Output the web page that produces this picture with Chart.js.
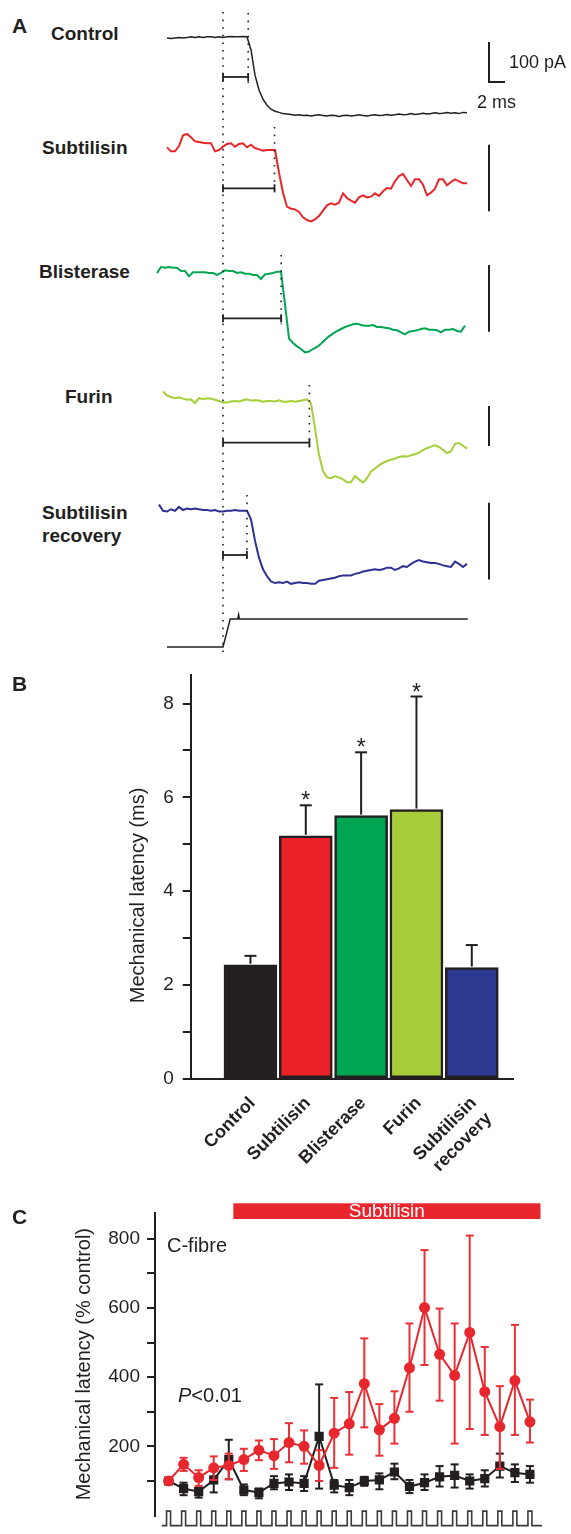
<!DOCTYPE html>
<html>
<head>
<meta charset="utf-8">
<title>Mechanical latency</title>
<script src="https://cdn.jsdelivr.net/npm/chart.js@4.4.0/dist/chart.umd.min.js"></script>
<style>
  html, body { margin: 0; padding: 0; background: #fff; }
  #page { position: relative; width: 571px; height: 1534px; overflow: hidden;
          font-family: "Liberation Sans", Arial, Helvetica, sans-serif; color: #231f20; }
  canvas { position: absolute; }
  .lbl { position: absolute; white-space: nowrap; line-height: 1; transform: translateY(-50%); }
  .panel { font-weight: bold; font-size: 21px; }
  .trace { font-weight: bold; font-size: 19px; }
  .note { font-size: 20px; }
  .scale { font-size: 18px; }
</style>
</head>
<body>
<div id="page">
  <canvas id="tracesChart" width="380" height="665" style="left:143px; top:0px;"></canvas>
  <canvas id="latencyChart" width="571" height="530" style="left:0px; top:655px;"></canvas>
  <canvas id="timeChart" width="571" height="344" style="left:0px; top:1190px;"></canvas>

  <div class="lbl panel" style="left:12px; top:25px;">A</div>
  <div class="lbl trace" style="left:51px; top:33px;">Control</div>
  <div class="lbl trace" style="left:42px; top:147px;">Subtilisin</div>
  <div class="lbl trace" style="left:39px; top:271px;">Blisterase</div>
  <div class="lbl trace" style="left:65px; top:396px;">Furin</div>
  <div class="lbl trace" style="left:42px; top:512px;">Subtilisin</div>
  <div class="lbl trace" style="left:42px; top:535px;">recovery</div>
  <div class="lbl scale" style="left:509px; top:62px;">100 pA</div>
  <div class="lbl scale" style="left:477px; top:102px;">2 ms</div>

  <div class="lbl panel" style="left:12px; top:683px;">B</div>

  <div class="lbl panel" style="left:12px; top:1216px;">C</div>
  <div class="lbl note" style="left:167px; top:1245px;">C-fibre</div>
  <div class="lbl note" style="left:178px; top:1395px;"><i>P</i>&lt;0.01</div>
</div>

<script>
// ---------- A: example mechanically activated currents ----------
// currents in pA, one sample every 0.5 ms, time 0 = probe onset
const sampleStep = 0.5;
const traceNames = ['Control', 'Subtilisin', 'Blisterase', 'Furin', 'Subtilisin recovery'];
const traceStarts = [-7, -7, -8.25, -7.5, -8];
const controlTrace = [0, -1, 0, 1, 0, 1, 3, 1, 3, 1, 3, 3, 1, 3, 1, 3, 4, 3, 3, 4, 3,
  -30, -93, -130, -153, -168, -178, -183, -186, -189, -190, -191,
  -193, -192, -194, -193, -195, -193, -192, -194, -195, -193,
  -194, -196, -194, -193, -195, -194, -192, -194, -195, -193,
  -192, -194, -193, -191, -193, -192, -190, -192, -191, -189,
  -191, -190, -188, -190, -189, -187, -189, -188, -186, -188,
  -187, -189, -186, -187];
const subtilisinTrace = [1, -5, -5, 3, 19, 21, 16, 10, 9, 8, 7, 7, -5, -3, 2, 6, 7, 2, 6, 7,
  1, 5, 0, -2, -4, -3, -3, -3,
  -37, -67, -88, -91, -92, -96, -104, -108, -110, -107, -102, -94, -86, -83, -85, -82,
  -68, -75, -79, -82, -74, -71, -74, -73, -68, -72, -65, -60, -61, -50, -42, -39,
  -48, -57, -47, -47, -55, -71, -67, -61, -47, -47, -56, -51, -47, -50, -53, -53];
const blisteraseTrace = [0, 9, 8, 9, 8, 8, 3, 3, -5, 1, 1, 1, 1, 0, 0, -3, 0, 4, 3, 3,
  0, 1, -1, -1, -3, -3, -9, -2, -1, 0, 2, 2,
  -47, -98, -105, -110, -114, -119, -118, -114, -111, -106, -100, -95, -91, -87, -84, -81,
  -79, -77, -76, -78, -79, -79, -78, -81, -81, -82, -83, -85, -86, -89, -92, -88,
  -87, -86, -84, -83, -85, -85, -86, -89, -85, -85, -84, -87, -88, -79];
const furinTrace = [24, 14, 10, 7, 9, 6, 3, 4, -5, 7, 5, 6, 6, 3, 0, -4, -4, -1, 0, -1,
  2, 4, 1, 2, 1, -2, 0, 0, -1, 2, -2, -2, 0, -2, 0, 2, 4, -6,
  -68, -135, -175, -191, -193, -188, -191, -196, -203, -203, -188, -196, -204, -193,
  -176, -169, -161, -155, -150, -147, -144, -140, -138, -139, -136, -133, -129, -123,
  -118, -114, -111, -115, -122, -130, -126, -107, -105, -112, -119];
const recoveryTrace = [7, -1, -2, 1, -1, 4, 0, 2, 1, 2, 1, 0, 0, -1, 0, -2, -2, -1, -1, 0,
  -1, -1, -1,
  -12, -40, -62, -77, -86, -93, -95, -94, -95, -93, -96, -95, -94, -95, -95, -96, -96,
  -92, -91, -90, -89, -88, -86, -85, -85, -85, -83, -82, -80, -79, -78, -77, -78,
  -77, -75, -75, -78, -76, -73, -74, -70, -67, -65, -67, -68, -69, -69, -70, -72,
  -73, -74, -67, -70, -74, -70];
const traceLatencies = [3.15, 6.44, 7.27, 10.8, 2.99]; // ms
// probe displacement (relative)
const stimTimes = [-7, 0, 0.9, 1.85, 1.95, 2.05, 30.6];
const stimLevels = [0, 0, 1, 1, 1.15, 1, 1];

// ---------- B: mean latency ----------
const barCategories = ['Control', 'Subtilisin', 'Blisterase', 'Furin', ['Subtilisin', 'recovery']];
const barMeans = [2.43, 5.18, 5.61, 5.74, 2.37];   // ms
const barErrors = [0.19, 0.65, 1.35, 2.41, 0.48];  // ms, upper error only
const barStars = [false, true, true, true, false];

// ---------- C: time course ----------
const sessionPoints = [1, 2, 3, 4, 5, 6, 7, 8, 9, 10, 11, 12, 13, 14, 15, 16, 17, 18, 19, 20, 21, 22, 23, 24, 25];
const subtilisinMean = [100, 148, 110, 138, 145, 162, 189, 173, 211, 200, 145, 238, 265, 381, 248, 281, 427, 601, 466, 405, 529, 358, 257, 390, 271];
const subtilisinUpper = [100, 167, 131, 171, 179, 193, 217, 221, 267, 246, 189, 340, 357, 512, 322, 359, 555, 767, 598, 555, 809, 487, 374, 551, 335];
const subtilisinLower = [100, 129, 86, 103, 105, 129, 160, 135, 154, 150, 100, 138, 176, 255, 173, 208, 300, 435, 332, 208, 250, 233, 135, 233, 211];
const controlMean = [100, 78, 69, 103, 162, 74, 67, 93, 97, 93, 229, 88, 81, 100, 103, 126, 84, 95, 112, 116, 100, 107, 143, 124, 119];
const controlUpper = [100, 95, 81, 138, 219, 90, 78, 114, 119, 114, 379, 103, 103, 112, 122, 150, 103, 119, 143, 148, 119, 131, 179, 148, 143];
const controlLower = [100, 59, 52, 67, 105, 59, 50, 76, 74, 71, 78, 67, 59, 86, 76, 105, 65, 74, 84, 81, 78, 84, 110, 97, 95];
const subtilisinOn = 5.3, subtilisinOff = 25.7;

const ink = '#231f20';
const traceColors = [ink, '#e8262a', '#00a651', '#a6ce39', '#2e3192'];
const barColors = [ink, '#ec2229', '#00a551', '#a6cd39', '#2e3a91'];
const red = '#e8262d';
const fontStack = '"Liberation Sans", Arial, Helvetica, sans-serif';

Chart.defaults.font.family = fontStack;
Chart.defaults.color = ink;

function strokeLine(ctx, x0, y0, x1, y1) {
  ctx.beginPath();
  ctx.moveTo(x0, y0);
  ctx.lineTo(x1, y1);
  ctx.stroke();
}

// ---- panel A layout: each trace gets its own hidden y axis ----
const A_H = 665;
const rowBase = [38, 148, 273, 401, 510];          // px of the 0 pA level
const rowGain = [0.4, 0.6667, 0.6667, 0.4, 0.7692]; // px per pA
const bracketLevel = [-97.5, -60.5, -68, -104, -58.5];
const scaleBarTop = [-10, 5, 12, -12.5, 9.5];
const dotAbove = [25, 21, 18, 16, 15];
const scaleBarTime = 33.25;

function rowScale(base, gain) {
  return { type: 'linear', display: false, min: (base - A_H) / gain, max: base / gain };
}

const traceSeries = [controlTrace, subtilisinTrace, blisteraseTrace, furinTrace, recoveryTrace];
const aScales = { x: { type: 'linear', display: false, min: -10, max: 37.5 } };
traceSeries.forEach((_, i) => { aScales['y' + i] = rowScale(rowBase[i], rowGain[i]); });
aScales.yStim = rowScale(647, 28);

const aDatasets = traceSeries.map((vals, i) => ({
  label: traceNames[i],
  data: vals.map((v, k) => ({ x: traceStarts[i] + k * sampleStep, y: v })),
  yAxisID: 'y' + i,
  borderColor: traceColors[i],
  borderWidth: i === 0 ? 1.5 : 2,
  pointRadius: 0,
  tension: 0
}));
aDatasets.push({
  label: 'Probe',
  data: stimTimes.map((t, k) => ({ x: t, y: stimLevels[k] })),
  yAxisID: 'yStim',
  borderColor: ink,
  borderWidth: 1.5,
  pointRadius: 0
});

const traceMarks = {
  id: 'traceMarks',
  afterDatasetsDraw(chart) {
    const { ctx, scales } = chart;
    const x = scales.x;
    ctx.save();
    ctx.strokeStyle = ink;
    // dotted lines: probe onset and current onsets
    ctx.lineWidth = 1.6;
    ctx.setLineDash([1.6, 6]);
    const x0 = x.getPixelForValue(0);
    strokeLine(ctx, x0, 12, x0, 657);
    traceLatencies.forEach((lat, i) => {
      const s = scales['y' + i];
      const px = x.getPixelForValue(lat);
      strokeLine(ctx, px, s.getPixelForValue(0) - dotAbove[i], px, s.getPixelForValue(bracketLevel[i]) + 6);
    });
    ctx.setLineDash([]);
    // latency brackets
    ctx.lineWidth = 1.8;
    traceLatencies.forEach((lat, i) => {
      const yb = scales['y' + i].getPixelForValue(bracketLevel[i]);
      const x1 = x.getPixelForValue(lat);
      strokeLine(ctx, x0, yb, x1, yb);
      strokeLine(ctx, x0, yb - 4, x0, yb + 4);
      strokeLine(ctx, x1, yb - 4, x1, yb + 4);
    });
    // 100 pA bars and the 2 ms bar
    ctx.lineWidth = 2;
    const xb = x.getPixelForValue(scaleBarTime);
    scaleBarTop.forEach((top, i) => {
      const s = scales['y' + i];
      strokeLine(ctx, xb, s.getPixelForValue(top), xb, s.getPixelForValue(top - 100));
    });
    const yFoot = scales.y0.getPixelForValue(scaleBarTop[0] - 100);
    strokeLine(ctx, xb - 1, yFoot, x.getPixelForValue(scaleBarTime + 2), yFoot);
    ctx.restore();
  }
};

new Chart(document.getElementById('tracesChart'), {
  type: 'line',
  data: { datasets: aDatasets },
  options: {
    responsive: false,
    animation: false,
    events: [],
    layout: { padding: 0 },
    plugins: { legend: { display: false }, tooltip: { enabled: false } },
    scales: aScales
  },
  plugins: [traceMarks]
});

// ---- panel B ----
const barMarks = {
  id: 'barMarks',
  afterDatasetsDraw(chart) {
    const { ctx, chartArea, scales: { x, y } } = chart;
    ctx.save();
    ctx.strokeStyle = ink;
    ctx.fillStyle = ink;
    ctx.lineWidth = 2;
    ctx.font = '23px ' + fontStack;
    ctx.textAlign = 'center';
    ctx.textBaseline = 'alphabetic';
    barMeans.forEach((m, i) => {
      const px = x.getPixelForValue(i + 1);
      const top = y.getPixelForValue(m + barErrors[i]);
      strokeLine(ctx, px, y.getPixelForValue(m) - 1, px, top);
      strokeLine(ctx, px - 6, top, px + 6, top);
      if (barStars[i]) ctx.fillText('*', px, top + 3);
    });
    // y title, centred a little below the middle of the axis as in the figure
    ctx.font = '20px ' + fontStack;
    ctx.textBaseline = 'middle';
    ctx.translate(chartArea.left - 52.7, chartArea.top + 220);
    ctx.rotate(-Math.PI / 2);
    ctx.fillText('Mechanical latency (ms)', 0, 0);
    ctx.restore();
  }
};

new Chart(document.getElementById('latencyChart'), {
  type: 'bar',
  data: {
    datasets: [{
      label: 'Mechanical latency',
      data: barMeans.map((m, i) => ({ x: i + 1, y: m })),
      backgroundColor: barColors,
      borderColor: ink,
      borderWidth: 2.5,
      borderSkipped: false,
      barThickness: 53
    }]
  },
  options: {
    responsive: false,
    animation: false,
    events: [],
    layout: { padding: { top: 15, right: 58, left: 0, bottom: 0 } },
    plugins: { legend: { display: false }, tooltip: { enabled: false } },
    scales: {
      x: {
        type: 'linear', min: -0.08, max: 5.745, offset: false,
        afterBuildTicks: s => { s.ticks = barCategories.map((_, i) => ({ value: i + 1 })); },
        afterFit: s => { s.height = 106.3; },
        border: { display: true, color: ink, width: 2 },
        grid: { display: false, drawTicks: false, offset: false },
        ticks: {
          autoSkip: false, maxRotation: 45, minRotation: 45, padding: 14, labelOffset: 2,
          font: { size: 18, weight: 'bold' }, color: ink,
          callback: (v, i) => barCategories[i]
        }
      },
      y: {
        min: 0, max: 8.6,
        afterFit: s => { s.width = 190.7; },
        border: { display: true, color: ink, width: 2 },
        grid: { display: true, drawOnChartArea: false, drawTicks: true, tickLength: 8, lineWidth: 2, color: ink },
        ticks: {
          stepSize: 1, includeBounds: false, padding: 9, font: { size: 19 }, color: ink,
          callback: v => (v % 2 === 0 ? v : '')
        }
      }
    }
  },
  plugins: [barMarks]
});

// ---- panel C ----
const errorBands = [
  { upper: subtilisinUpper, lower: subtilisinLower, color: '#ea3036' },
  { upper: controlUpper, lower: controlLower, color: ink }
];

const timeMarks = {
  id: 'timeMarks',
  beforeDatasetDraw(chart, args) {
    const band = errorBands[args.index];
    const { ctx, scales: { x, y } } = chart;
    ctx.save();
    ctx.strokeStyle = band.color;
    ctx.lineWidth = 2;
    sessionPoints.forEach((p, k) => {
      if (band.upper[k] === band.lower[k]) return;
      const px = x.getPixelForValue(p);
      const yt = y.getPixelForValue(band.upper[k]);
      const yb = y.getPixelForValue(band.lower[k]);
      strokeLine(ctx, px, yt, px, yb);
      strokeLine(ctx, px - 4, yt, px + 4, yt);
      strokeLine(ctx, px - 4, yb, px + 4, yb);
    });
    ctx.restore();
  },
  afterDraw(chart) {
    const { ctx, chartArea, scales: { x } } = chart;
    ctx.save();
    // subtilisin application bar
    const xa = x.getPixelForValue(subtilisinOn);
    const xe = x.getPixelForValue(subtilisinOff);
    const top = chartArea.top - 9.4;
    ctx.fillStyle = red;
    ctx.fillRect(xa, top, xe - xa, 15.7);
    ctx.fillStyle = '#fff';
    ctx.font = '19px ' + fontStack;
    ctx.textAlign = 'center';
    ctx.textBaseline = 'middle';
    ctx.fillText('Subtilisin', (xa + xe) / 2, top + 8.5);
    // stimulus train
    const y0 = chartArea.bottom + 10;
    const y1 = y0 - 14.5;
    ctx.strokeStyle = '#3b3b3b';
    ctx.lineWidth = 1.6;
    ctx.beginPath();
    ctx.moveTo(x.getPixelForValue(0.55), y0);
    sessionPoints.forEach(p => {
      const px = x.getPixelForValue(p);
      ctx.lineTo(px - 2, y0);
      ctx.lineTo(px - 2, y1);
      ctx.lineTo(px + 2, y1);
      ctx.lineTo(px + 2, y0);
    });
    ctx.lineTo(x.getPixelForValue(25.8), y0);
    ctx.stroke();
    ctx.restore();
  }
};

new Chart(document.getElementById('timeChart'), {
  type: 'line',
  data: {
    datasets: [
      {
        label: 'Subtilisin',
        data: sessionPoints.map((p, k) => ({ x: p, y: subtilisinMean[k] })),
        borderColor: red, backgroundColor: red, borderWidth: 2,
        pointStyle: 'circle', pointRadius: 5.5, pointBorderWidth: 0
      },
      {
        label: 'Control',
        data: sessionPoints.map((p, k) => ({ x: p, y: controlMean[k] })),
        borderColor: ink, backgroundColor: ink, borderWidth: 2,
        pointStyle: 'rect', pointRadius: 6.5, pointBorderWidth: 0
      }
    ]
  },
  options: {
    responsive: false,
    animation: false,
    events: [],
    layout: { padding: { top: 22.7, right: 26, left: 0, bottom: 12.3 } },
    plugins: { legend: { display: false }, tooltip: { enabled: false } },
    scales: {
      x: { type: 'linear', display: false, min: 0.1, max: 26 },
      y: {
        min: 0, max: 875,
        afterFit: s => { s.width = 155; },
        border: { display: true, color: ink, width: 2 },
        grid: {
          display: true, drawOnChartArea: false, drawTicks: true, tickLength: 8, lineWidth: 2,
          color: c => (c.tick && c.tick.value === 0 ? 'rgba(0,0,0,0)' : ink)
        },
        ticks: {
          stepSize: 100, includeBounds: false, padding: 7, font: { size: 19 }, color: ink,
          callback: v => (v > 0 && v % 200 === 0 ? v : '')
        },
        title: { display: true, text: 'Mechanical latency (% control)', font: { size: 20 }, color: ink, padding: { top: 72.7, bottom: 0 } }
      }
    }
  },
  plugins: [timeMarks]
});
</script>
</body>
</html>
